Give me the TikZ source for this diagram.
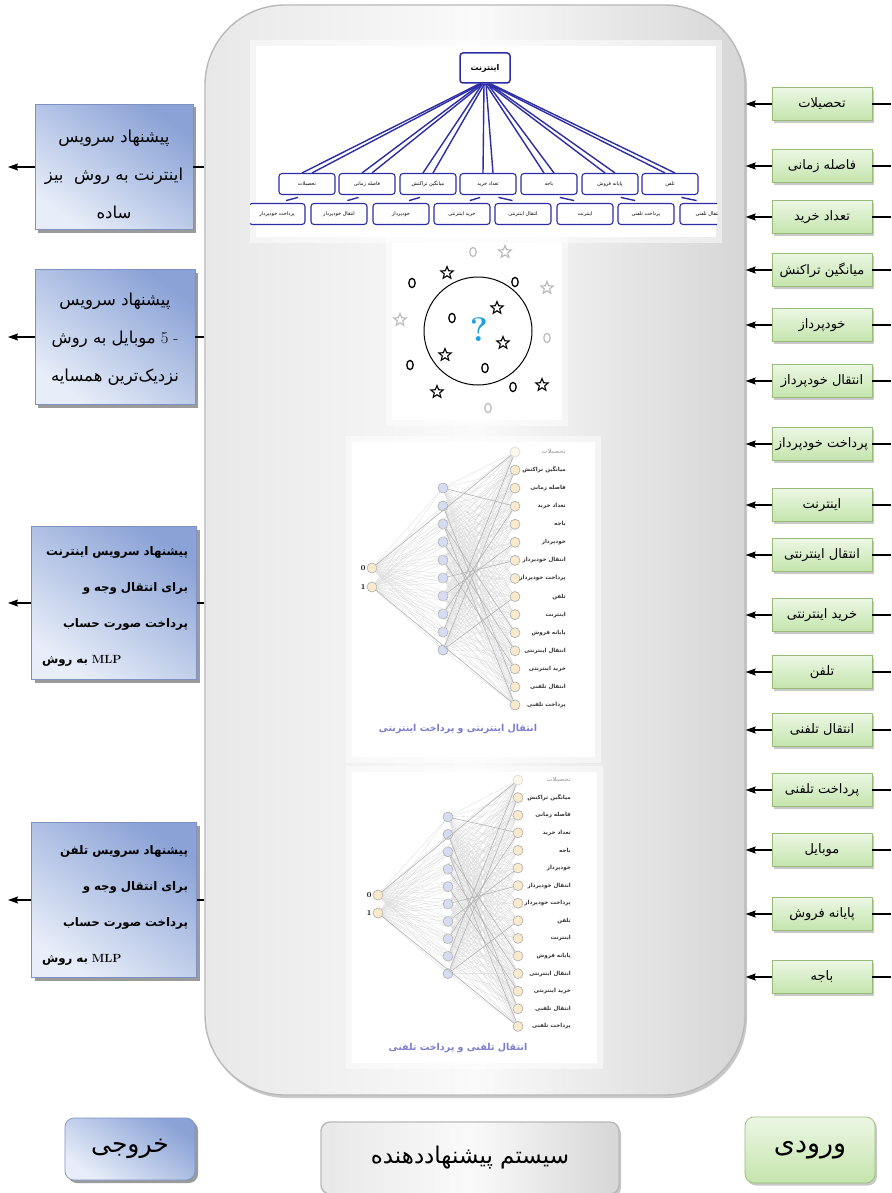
\documentclass[tikz,border=0pt]{standalone}
\usepackage{fontspec}
\usetikzlibrary{shapes.geometric,shadows,arrows.meta,calc}
\newfontfamily\arabicfont[Script=Arabic]{DejaVu Sans}
\TeXXeTstate=1
\newcommand{\fa}[1]{{\arabicfont\beginR #1\endR}}
\newcommand{\latb}[1]{{\normalfont\bfseries #1}}
\definecolor{treeblue}{RGB}{45,45,165}
\definecolor{peach}{RGB}{250,234,205}
\definecolor{lav}{RGB}{214,220,242}
\definecolor{gfill1}{RGB}{236,247,228}
\definecolor{gfill2}{RGB}{196,228,172}
\definecolor{gborder}{RGB}{150,188,120}
\definecolor{bfill1}{RGB}{232,238,249}
\definecolor{bfill2}{RGB}{138,162,214}
\definecolor{bborder}{RGB}{125,145,195}
\definecolor{qcyan}{RGB}{30,160,225}
\definecolor{capblue}{RGB}{125,125,205}
\tikzset{
  inbox/.style={draw=gborder, line width=0.7pt, top color=gfill1, bottom color=gfill2, minimum width=100, minimum height=33, inner sep=1pt, font=\fontsize{13}{15}\selectfont, drop shadow={shadow xshift=2pt, shadow yshift=-2.5pt, fill=gray!70, opacity=0.6}},
  outbox/.style={draw=bborder, line width=0.7pt, bottom color=bfill1, top color=bfill2, shading angle=-35, inner sep=2pt, drop shadow={shadow xshift=3pt, shadow yshift=-3pt, fill=gray!70!black, opacity=0.6}},
  outtext/.style={inner sep=0pt},
  sysbox/.style={draw=gray!55, line width=1.4pt, left color=gray!18, right color=gray!32, middle color=white!96!gray, drop shadow={shadow xshift=2pt, shadow yshift=-3pt, fill=gray!60, opacity=0.7}},
  arr/.style={-{Stealth[length=10pt,width=7pt,inset=1.5pt]}, line width=1.1pt},
  pline/.style={line width=1.1pt},
  tnode/.style={draw=treeblue, line width=1.1pt, rounded corners=3pt, fill=white, minimum width=56, minimum height=21, inner sep=0pt, font=\fontsize{5}{6}\selectfont},
  tline/.style={draw=treeblue, line width=1.4pt},
  nin/.style={circle, draw=gray!65, fill=peach, minimum size=10pt, inner sep=0pt, line width=0.6pt},
  nhid/.style={circle, draw=gray!65, fill=lav, minimum size=10pt, inner sep=0pt, line width=0.6pt},
  nnl/.style={draw=gray!28, line width=0.3pt},
  nnd/.style={draw=gray!62, line width=0.5pt},
  lbl/.style={anchor=east, inner sep=0pt, font=\bfseries\fontsize{5.6}{6}\selectfont, text=black!80},
  knst/.style={star, star points=5, star point ratio=2.3, draw, line width=1.1pt, minimum size=13pt, inner sep=0pt},
  kno/.style={line width=1.3pt},
}
\newcommand{\drawmlp}{%
  \fill[white, opacity=0.5] (\Nbx-6,\Nby-6) rectangle (\Nbxx+6,\Nbyy+6);
  \fill[white] (\Nbx,\Nby) rectangle (\Nbxx,\Nbyy);
  \foreach \k in {0,1} {\node[nin] (\Npre i\k) at (\Nix,\Niy+\k*\Nis) {};}
  \foreach \h in {1,...,10} {\node[nhid] (\Npre h\h) at (\Nhx,\Nhy+\h*\Nhs-\Nhs) {};}
  \node[nin, fill=peach!40, draw=gray!30] (\Npre o1) at (\Nox,\Noy) {};
  \foreach \o in {2,...,15} {\node[nin] (\Npre o\o) at (\Nox,\Noy+\o*\Nos-\Nos) {};}
  \foreach \k in {0,1} {\foreach \h in {1,...,10} {\draw[nnl] (\Npre i\k) -- (\Npre h\h);}}
  \foreach \k in {0,1} {\foreach \o in {1,...,15} {\draw[nnl] (\Npre i\k) -- (\Npre o\o);}}
  \foreach \h in {1,...,10} {\foreach \o in {1,...,15} {\draw[nnl] (\Npre h\h) -- (\Npre o\o);}}
  \foreach \h/\o in {3/15,2/14,9/1,10/2,8/4,4/12,1/4,6/7,5/13,7/6,3/11,10/9} {\draw[nnd] (\Npre h\h) -- (\Npre o\o);}
  \draw[nnd] (\Npre i0) -- (\Npre o1);
  \draw[nnd] (\Npre i1) -- (\Npre o15);
  \node[font=\bfseries\fontsize{7.5}{8}\selectfont, anchor=east, inner sep=1pt] (\Npre z0) at (\Npre i0.west) {0};
  \node[font=\bfseries\fontsize{7.5}{8}\selectfont, anchor=east, inner sep=1pt] (\Npre z1) at (\Npre i1.west) {1};
  \node[lbl, text=gray!60] (\Npre l1) at (\Nlx,\Noy) {\fa{تحصیلات}};
  \foreach \o/\t in {2/میانگین تراکنش,3/فاصله زمانی,4/تعداد خرید,5/باجه,6/خودپرداز,7/انتقال خودپرداز,8/پرداخت خودپرداز,9/تلفن,10/اینترنت,11/پایانه فروش,12/انتقال اینترنتی,13/خرید اینترنتی,14/انتقال تلفنی,15/پرداخت تلفنی} {\node[lbl] (\Npre l\o) at (\Nlx,\Noy+\o*\Nos-\Nos) {\fa{\t}};}
}
\begin{document}
\begin{tikzpicture}[x=1pt,y=-1pt]
\useasboundingbox (0,0) rectangle (891,1193);
\fill[white] (0,0) rectangle (891,1193);
% main system box
\node[sysbox, minimum width=540, minimum height=1090, rounded corners=80pt, inner sep=0pt] (sys) at (475,550) {};
% ---------- tree picture ----------
\fill[white, opacity=0.5] (250,40) rectangle (722,243);
\fill[white] (256,46) rectangle (716,237);
\begin{scope}
\clip (250,40) rectangle (717,243);
\node[tnode, minimum width=50, minimum height=30, line width=1.5pt, font=\bfseries\fontsize{8}{9}\selectfont] (root) at (485,68) {\fa{اینترنت}};
\foreach \i/\x/\t in {1/307/تحصیلات,2/367/فاصله زمانی,3/428/میانگین تراکنش,4/488/تعداد خرید,5/549/باجه,6/610/پایانه فروش,7/670/تلفن} {\node[tnode] (m\i) at (\x,184) {\fa{\t}};}
\foreach \i/\x/\t in {1/277/پرداخت خودپرداز,2/339/انتقال خودپرداز,3/401/خودپرداز,4/462/خرید اینترنتی,5/523/انتقال اینترنتی,6/585/اینترنت,7/646/پرداخت تلفنی,8/708/انتقال تلفنی} {\node[tnode] (b\i) at (\x,214) {\fa{\t}};}
\foreach \i in {1,...,7} {
  \draw[tline] ([xshift={(\i-4)*1.5pt-1pt}]root.south) -- ([xshift=-5pt]m\i.north);
  \draw[tline] ([xshift={(\i-4)*1.5pt+1pt}]root.south) -- ([xshift=5pt]m\i.north);
}
\foreach \a/\b in {1/1,2/2,3/3,4/4,4/5,5/6,6/7,7/8} {\draw[tline] ($(m\a.south)!0.3!(b\b.north)$) -- ($(b\b.north)!0.3!(m\a.south)$);}
\end{scope}
% ---------- kNN picture ----------
\fill[white, opacity=0.5] (386,237) rectangle (568,426);
\fill[white] (392,243) rectangle (562,420);
\draw[line width=1pt] (478,331) circle [radius=54pt];
\node[text=qcyan, font=\bfseries\fontsize{34}{34}\selectfont] (qm) at (479,330) {?};
\foreach \x/\y in {447/273,497/308,503/343,445/355,437/392,542/385} {\node[knst] at (\x,\y) {};}
\foreach \x/\y in {505/252,547/288,400/320} {\node[knst, draw=gray!55] at (\x,\y) {};}
\foreach \x/\y in {412/283,515/282,452/318,410/365,485/368,513/387} {\draw[kno] (\x,\y) ellipse [x radius=3.2pt, y radius=4.6pt];}
\foreach \x/\y in {473/252,547/338,488/408} {\draw[kno, draw=gray!50] (\x,\y) ellipse [x radius=3.2pt, y radius=4.6pt];}
% ---------- MLP 1 ----------
\def\Npre{a}\def\Nbx{352}\def\Nby{442}\def\Nbxx{595}\def\Nbyy{757}
\def\Nix{372}\def\Niy{568}\def\Nis{19}\def\Nhx{443}\def\Nhy{488}\def\Nhs{18}
\def\Nox{515}\def\Noy{452}\def\Nos{18.07}\def\Nlx{566}
\drawmlp
\node[text=capblue, font=\bfseries\fontsize{9.5}{10}\selectfont] (acap) at (458,729) {\fa{انتقال اینترنتی و پرداخت اینترنتی}};
% ---------- MLP 2 ----------
\def\Npre{b}\def\Nbx{352}\def\Nby{772}\def\Nbxx{597}\def\Nbyy{1063}
\def\Nix{378}\def\Niy{895}\def\Nis{18}\def\Nhx{448}\def\Nhy{817}\def\Nhs{17.4}
\def\Nox{518}\def\Noy{780}\def\Nos{17.6}\def\Nlx{571}
\drawmlp
\node[text=capblue, font=\bfseries\fontsize{9.5}{10}\selectfont] (bcap) at (458,1048) {\fa{انتقال تلفنی و پرداخت تلفنی}};
% ---------- inputs (right) ----------
\foreach \i/\y/\t in {1/104/تحصیلات,2/166/فاصله زمانی,3/217/تعداد خرید,4/270/میانگین تراکنش,5/325/خودپرداز,6/381/انتقال خودپرداز,7/444/پرداخت خودپرداز,8/505/اینترنت,9/555/انتقال اینترنتی,10/615/خرید اینترنتی,11/672/تلفن,12/730/انتقال تلفنی,13/790/پرداخت تلفنی,14/850/موبایل,15/914/پایانه فروش,16/977/باجه} {
  \node[inbox] (r\i) at (822,\y) {\fa{\t}};
  \coordinate (re\i) at (891,\y);
  \draw[arr] (r\i.west) -- (sys.east |- r\i);
  \draw[pline] (r\i.east) -- (re\i);
}
% ---------- outputs (left) ----------
\node[outbox, minimum width=158, minimum height=125] (o1) at (114,167) {};
\node[outtext, align=center, font=\fontsize{16.5}{38}\selectfont] (o1t) at (114,174) {\fa{پیشنهاد سرویس}\\\fa{اینترنت به روش\ \ بیز}\\\fa{ساده}};
\node[outbox, minimum width=160, minimum height=135] (o2) at (115,337) {};
\node[outtext, align=center, font=\fontsize{16.5}{38}\selectfont] (o2t) at (115,339) {\fa{پیشنهاد سرویس}\\\fa{موبایل به روش} 5 -\\\fa{نزدیک‌ترین همسایه}};
\node[outbox, minimum width=165, minimum height=153] (o3) at (114,603) {};
\node[outtext, align=right, text width=146, font=\bfseries\fontsize{11.8}{36}\selectfont] (o3t) at (115,606) {\fa{پیشنهاد سرویس اینترنت}\\\fa{برای انتقال وجه و}\\\fa{پرداخت صورت حساب}\\\makebox[146pt][l]{\fa{به روش} \latb{MLP}}};
\node[outbox, minimum width=165, minimum height=155] (o4) at (114,900) {};
\node[outtext, align=right, text width=146, font=\bfseries\fontsize{11.8}{36}\selectfont] (o4t) at (115,905) {\fa{پیشنهاد سرویس تلفن}\\\fa{برای انتقال وجه و}\\\fa{پرداخت صورت حساب}\\\makebox[146pt][l]{\fa{به روش} \latb{MLP}}};
\foreach \i in {1,2,3,4} {
  \coordinate (ol\i) at (8,0 |- o\i);
  \draw[pline] (sys.west |- o\i) -- (o\i.east);
  \draw[arr] (o\i.west) -- (ol\i);
}
% ---------- legend ----------
\node[outbox, rounded corners=9pt, minimum width=130, minimum height=62, font=\fontsize{25}{27}\selectfont] (legout) at (130,1149) {\fa{خروجی}};
\node[sysbox, rounded corners=9pt, minimum width=298, minimum height=72, font=\fontsize{23}{25}\selectfont] (legsys) at (470,1158) {\fa{سیستم پیشنهاددهنده}};
\node[inbox, rounded corners=9pt, minimum width=130, minimum height=66, font=\fontsize{27}{29}\selectfont] (legin) at (810,1150) {\fa{ورودی}};
\end{tikzpicture}
\end{document}
